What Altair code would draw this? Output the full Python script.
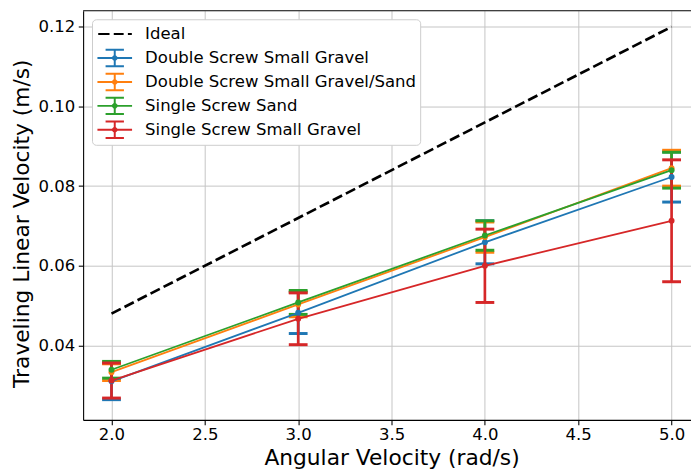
import altair as alt
import pandas as pd

# ---------------- data ----------------
omega = [2.0, 3.0, 4.0, 5.0]
ideal_v = [0.048, 0.072, 0.096, 0.120]

series_names = [
    "Double Screw Small Gravel",
    "Double Screw Small Gravel/Sand",
    "Single Screw Sand",
    "Single Screw Small Gravel",
]
ds_gravel_mean = [0.0310, 0.0482, 0.0659, 0.0823]
ds_gravel_err = [0.0046, 0.0052, 0.0054, 0.0063]
ds_mix_mean = [0.0333, 0.0503, 0.0672, 0.0845]
ds_mix_err = [0.0021, 0.0031, 0.0038, 0.0045]
ss_sand_mean = [0.0339, 0.0508, 0.0676, 0.0840]
ss_sand_err = [0.0021, 0.0030, 0.0037, 0.0045]
ss_gravel_mean = [0.0312, 0.0467, 0.0600, 0.0713]
ss_gravel_err = [0.0044, 0.0065, 0.0092, 0.0153]

means = [ds_gravel_mean, ds_mix_mean, ss_sand_mean, ss_gravel_mean]
errs = [ds_gravel_err, ds_mix_err, ss_sand_err, ss_gravel_err]

x_ticks = [2.0, 2.5, 3.0, 3.5, 4.0, 4.5, 5.0]
y_ticks = [0.04, 0.06, 0.08, 0.10, 0.12]

legend_order = ["Ideal"] + series_names
colors = ["#000000", "#1f77b4", "#ff7f0e", "#2ca02c", "#d62728"]

# ---------------- layout constants ----------------
X_MIN, X_MAX = 1.848, 5.104
Y_MIN, Y_MAX = 0.02132, 0.12404
W, H = 615, 414
FONT = "DejaVu Sans"

rows = []
for name, m, e in zip(series_names, means, errs):
    for w, mv, ev in zip(omega, m, e):
        rows.append({"series": name, "omega": w, "v": mv, "lo": mv - ev, "hi": mv + ev})
df = pd.DataFrame(rows)
df_ideal = pd.DataFrame({"omega": omega, "v": ideal_v, "series": "Ideal"})
df_legend = pd.DataFrame({"series": legend_order, "omega": [2.0] * 5, "v": [0.05] * 5})
df_frame = pd.DataFrame({"omega": [X_MIN], "x1": [X_MAX], "v": [Y_MAX]})

xs = alt.Scale(domain=[X_MIN, X_MAX], nice=False, zero=False)
ys = alt.Scale(domain=[Y_MIN, Y_MAX], nice=False, zero=False)
cs = alt.Scale(domain=legend_order, range=colors)

# legend glyphs (custom SVG paths, 8 px per unit at symbolSize 256)
eb_glyph = ("M-0.94,0H3.44 M1.25,-1.04V1.04 M0.09,-1.04H2.41 M0.09,1.04H2.41 "
            "M1.25,-0.3L1.55,0L1.25,0.3L0.95,0Z")
ideal_glyph = "M-0.84,0H0.59 M1.125,0H2.375 M2.91,0H3.41"
shape_scale = alt.Scale(domain=legend_order, range=[ideal_glyph] + [eb_glyph] * 4)

xaxis = alt.Axis(values=x_ticks, format=".1f", title="Angular Velocity (rad/s)",
                 titleX=312, titleY=45, titleBaseline="alphabetic", titleAlign="center",
                 labelPadding=2)
yaxis = alt.Axis(values=y_ticks, format=".2f", title="Traveling Linear Velocity (m/s)",
                 titleX=-55, titleY=215, titleBaseline="alphabetic", titleAlign="center",
                 labelPadding=3.5)

X = lambda f="omega": alt.X(f"{f}:Q", scale=xs, axis=xaxis)
Y = lambda f="v": alt.Y(f"{f}:Q", scale=ys, axis=yaxis)

layers = []
ideal = alt.Chart(df_ideal).mark_line(
    strokeDash=[10.5, 4.3], strokeWidth=2.7, color="black").encode(x=X(), y=Y())
layers.append(ideal)

# error bars and caps (drawn below the data lines, as in matplotlib)
for name, col in zip(series_names, colors[1:]):
    base = alt.Chart(df).transform_filter(alt.datum.series == name)
    bar = base.mark_rule(strokeWidth=2.7, color=col).encode(x=X(), y=Y("lo"), y2="hi:Q")
    cap_lo = base.mark_tick(orient="horizontal", size=19, thickness=3, color=col, opacity=1).encode(
        x=X(), y=Y("lo"))
    cap_hi = base.mark_tick(orient="horizontal", size=19, thickness=3, color=col, opacity=1).encode(
        x=X(), y=Y("hi"))
    layers += [bar, cap_lo, cap_hi]

for name, col in zip(series_names, colors[1:]):
    base = alt.Chart(df).transform_filter(alt.datum.series == name)
    line = base.mark_line(strokeWidth=1.8, color=col).encode(x=X(), y=Y())
    pts = base.mark_point(filled=True, size=36, opacity=1, color=col).encode(x=X(), y=Y())
    layers += [line, pts]

# top frame line
frame = alt.Chart(df_frame).mark_rule(color="black", strokeWidth=1.1).encode(
    x=X(), x2="x1:Q", y=Y())
layers.append(frame)

# legend carrier (no visible marks)
legend_layer = alt.Chart(df_legend).transform_filter("false").mark_point(
    filled=False, opacity=1).encode(
    x=X(), y=Y(),
    color=alt.Color("series:N", scale=cs, legend=alt.Legend(
        title=None, orient="none", legendX=9, legendY=8.7, padding=4,
        fillColor="white", strokeColor="#cccccc", cornerRadius=4,
        labelFont=FONT, labelFontSize=16.7, labelColor="black", labelLimit=600,
        symbolSize=256, symbolStrokeWidth=2, labelOffset=31.7,
        clipHeight=22, rowPadding=2.2)),
    shape=alt.Shape("series:N", scale=shape_scale),
)
layers.append(legend_layer)

chart = alt.layer(*layers).properties(
    width=W, height=H,
    autosize=alt.AutoSizeParams(type="none"),
    padding={"left": 76, "top": 0, "right": 0, "bottom": 50},
).configure_view(stroke=None).configure_axis(
    grid=True, gridColor="#c4c4c4", gridWidth=1,
    domainColor="black", domainWidth=1.1,
    tickColor="black", tickWidth=1.1, tickSize=4.9,
    labelFont=FONT, labelFontSize=16.7, labelColor="black",
    titleFont=FONT, titleFontSize=22, titleColor="black", titleFontWeight="normal",
)

chart.save("out.html", embed_options={"renderer": "svg", "actions": False})
